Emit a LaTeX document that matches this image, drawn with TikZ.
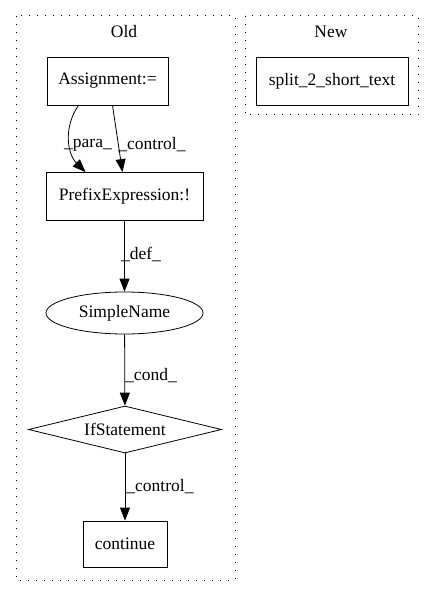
\documentclass[tikz,border=0pt]{standalone}
\usepackage{fontspec}
\setmainfont{Liberation Serif}
\usetikzlibrary{arrows.meta,shapes.geometric}
\begin{document}
\begin{tikzpicture}[x=1pt, y=-1pt,
    every node/.style={font=\fontsize{17.5}{20}\selectfont},
    box/.style={draw, thick, minimum height=48pt, inner sep=0pt},
    cluster/.style={draw, line width=1pt, dash pattern=on 1.2pt off 6.8pt},
    edge/.style={thick, -{Triangle[length=13pt,width=10pt]}},
    lbl/.style={inner sep=1pt}]
    \useasboundingbox (0,0) rectangle (435,596);

    \draw[cluster] (16,16) rectangle (235,580);
    \draw[cluster] (245,16) rectangle (418,115);
    \node (old) at (124,32) {Old};
    \node (new) at (331,32) {New};

    \node[box, minimum width=121pt] (assign) at (107.5,81) {Assignment:=};
    \node[box, minimum width=157pt] (prefix) at (124.5,196.5) {PrefixExpression:!};
    \node[draw, thick, ellipse, minimum width=157pt, minimum height=42pt, inner sep=0pt] (simple) at (124.5,313) {SimpleName};
    \node[draw, thick, diamond, aspect=4, minimum width=193pt, minimum height=47pt, inner sep=0pt] (ifst) at (125,429.5) {IfStatement};
    \node[box, minimum width=84pt, minimum height=46pt] (cont) at (125,544) {continue};
    \node[box, minimum width=152pt] (split) at (332,81) {split\_2\_short\_text};

    \draw[edge] ([xshift=-29pt]assign.south) to[out=-125, in=135] ([xshift=-39pt]prefix.north);
    \draw[edge] ([xshift=5pt]assign.south) -- ([xshift=-2pt]prefix.north);
    \draw[edge] (prefix) -- (simple);
    \draw[edge] (simple) -- (ifst);
    \draw[edge] (ifst) -- (cont);

    \node[lbl] (lpara) at (88,145) {\_para\_};
    \node[lbl] (lctrl) at (152,145) {\_control\_};
    \node[lbl] (ldef) at (141,254) {\_def\_};
    \node[lbl] (lcond) at (151,376) {\_cond\_};
    \node[lbl] (lctrl2) at (160,487) {\_control\_};
\end{tikzpicture}
\end{document}
